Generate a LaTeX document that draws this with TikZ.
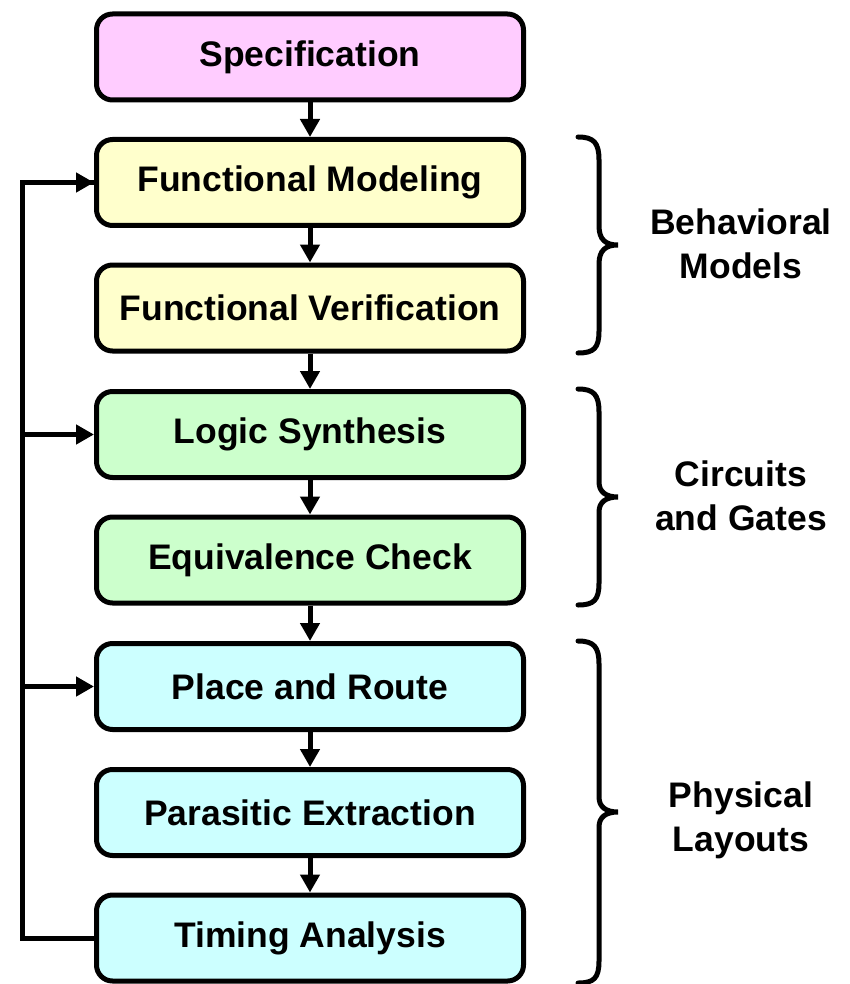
\documentclass[tikz,border=0pt]{standalone}
\usepackage{fontspec}
\setmainfont{Liberation Sans}
\usetikzlibrary{arrows.meta}
\definecolor{specc}{HTML}{FFCCFF}
\definecolor{behc}{HTML}{FFFFCC}
\definecolor{circc}{HTML}{CCFFCC}
\definecolor{physc}{HTML}{CCFFFF}
\tikzset{
  stepbox/.style={draw=black, line width=5pt, rounded corners=16pt,
    minimum width=427pt, minimum height=86pt, inner sep=0pt,
    font=\fontsize{35.5}{40}\selectfont\bfseries},
  flow/.style={line width=5pt, -{Triangle[length=18pt,width=19pt]}},
  fb/.style={line width=5pt},
  bracel/.style={line width=5pt, line cap=round},
  grouplabel/.style={align=center, font=\fontsize{35.5}{44}\selectfont\bfseries}
}
\begin{document}
\begin{tikzpicture}[x=1pt,y=-1pt]
\useasboundingbox (0,0) rectangle (850,984);
\node[stepbox, fill=specc] (spec) at (310,57) {Specification};
\node[stepbox, fill=behc] (fm) at (310,182.5) {Functional Modeling};
\node[stepbox, fill=behc] (fv) at (310,308) {Functional Verification};
\node[stepbox, fill=circc] (ls) at (310,434.5) {Logic Synthesis};
\node[stepbox, fill=circc] (ec) at (310,560) {Equivalence Check};
\node[stepbox, fill=physc] (pr) at (310,686.5) {Place and Route};
\node[stepbox, fill=physc] (pe) at (310,812.5) {Parasitic Extraction};
\node[stepbox, fill=physc] (ta) at (310,938) {Timing Analysis};
\draw[flow] (spec) -- (fm);
\draw[flow] (fm) -- (fv);
\draw[flow] (fv) -- (ls);
\draw[flow] (ls) -- (ec);
\draw[flow] (ec) -- (pr);
\draw[flow] (pr) -- (pe);
\draw[flow] (pe) -- (ta);
\coordinate (fbtop) at (22,182.5);
\coordinate (fbbot) at (22,938);
\coordinate (fbls) at (22,434.5);
\coordinate (fbpr) at (22,686.5);
\draw[fb, line join=miter] (ta.west) -- (fbbot) -- (fbtop) -- (fm.west);
\draw[flow] (fbtop) -- (fm.west);
\draw[flow] (fbls) -- (ls.west);
\draw[flow] (fbpr) -- (pr.west);
% braces
\draw[bracel] (578,137) .. controls (594,137) and (599,143) .. (599,160) -- (599,226)
  .. controls (599,240) and (606,245) .. (618,245)
  .. controls (606,245) and (599,250) .. (599,264) -- (599,331)
  .. controls (599,348) and (594,353) .. (578,353);
\draw[bracel] (578,389) .. controls (594,389) and (599,395) .. (599,412) -- (599,482)
  .. controls (599,492) and (606,497) .. (618,497)
  .. controls (606,497) and (599,502) .. (599,512) -- (599,583)
  .. controls (599,600) and (594,605) .. (578,605);
\draw[bracel] (578,641) .. controls (594,641) and (599,647) .. (599,664) -- (599,797)
  .. controls (599,807) and (606,812) .. (618,812)
  .. controls (606,812) and (599,817) .. (599,827) -- (599,961)
  .. controls (599,978) and (594,983) .. (578,983);
\node[grouplabel] (lbeh) at (741,244) {Behavioral\\Models};
\node[grouplabel] (lcirc) at (741,496) {Circuits\\and Gates};
\node[grouplabel] (lphys) at (741,820) {Physical\\Layouts};
\end{tikzpicture}
\end{document}
